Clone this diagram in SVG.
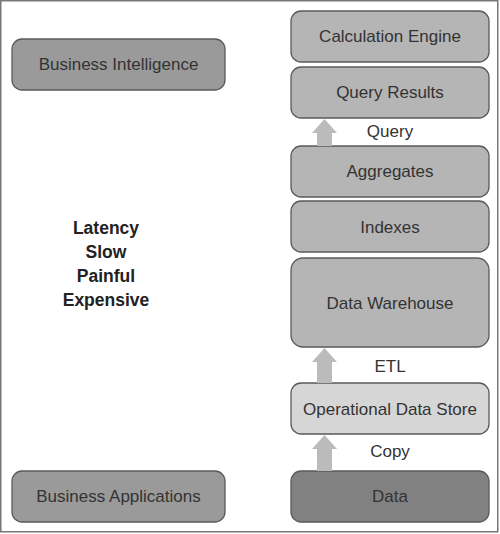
<svg xmlns="http://www.w3.org/2000/svg" width="500" height="534" viewBox="0 0 500 534">
<style>
.frame{fill:#fff;stroke:#777;stroke-width:1.5}
.n rect{stroke:#5a5a5a;stroke-width:1.3}
.left{fill:#9a9a9a}
.mid{fill:#b5b5b5}
.light{fill:#d6d6d6}
.dark{fill:#818181}
text{font-family:"Liberation Sans",Arial,sans-serif;font-size:17px;fill:#333;text-anchor:middle}
.b{font-weight:bold;font-size:17.5px;fill:#222}
.arr{fill:#bbb}
</style>
<rect class="frame" x="0.75" y="0.75" width="497" height="531"/>
<g id="business-intelligence" class="n"><rect class="left" x="12" y="39" width="213" height="51" rx="10"/><text x="118.5" y="70">Business Intelligence</text></g>
<g id="business-applications" class="n"><rect class="left" x="12" y="471" width="213" height="51" rx="10"/><text x="118.5" y="502">Business Applications</text></g>
<g id="calculation-engine" class="n"><rect class="mid" x="291" y="11" width="198" height="51" rx="10"/><text x="390" y="42">Calculation Engine</text></g>
<g id="query-results" class="n"><rect class="mid" x="291" y="67" width="198" height="51" rx="10"/><text x="390" y="98">Query Results</text></g>
<g id="aggregates" class="n"><rect class="mid" x="291" y="146" width="198" height="51" rx="10"/><text x="390" y="177">Aggregates</text></g>
<g id="indexes" class="n"><rect class="mid" x="291" y="201" width="198" height="51" rx="10"/><text x="390" y="233">Indexes</text></g>
<g id="data-warehouse" class="n"><rect class="mid" x="291" y="258" width="198" height="89" rx="12"/><text x="390" y="309">Data Warehouse</text></g>
<g id="operational-data-store" class="n"><rect class="light" x="291" y="383" width="198" height="51" rx="10"/><text x="390" y="415">Operational Data Store</text></g>
<g id="data" class="n"><rect class="dark" x="291" y="471" width="198" height="51" rx="10"/><text x="390" y="502">Data</text></g>
<g id="connectors">
<polygon class="arr" points="324.5,119 337,133 332,133 332,146 317,146 317,133 312,133"/>
<polygon class="arr" points="324.5,348 337,362 332,362 332,383 317,383 317,362 312,362"/>
<polygon class="arr" points="324.5,435 337,449 332,449 332,471 317,471 317,449 312,449"/>
<text x="390" y="137">Query</text>
<text x="390" y="372">ETL</text>
<text x="390" y="457">Copy</text>
</g>
<g id="notes">
<text class="b" x="106" y="234">Latency</text>
<text class="b" x="106" y="258">Slow</text>
<text class="b" x="106" y="282">Painful</text>
<text class="b" x="106" y="306">Expensive</text>
</g>
</svg>
